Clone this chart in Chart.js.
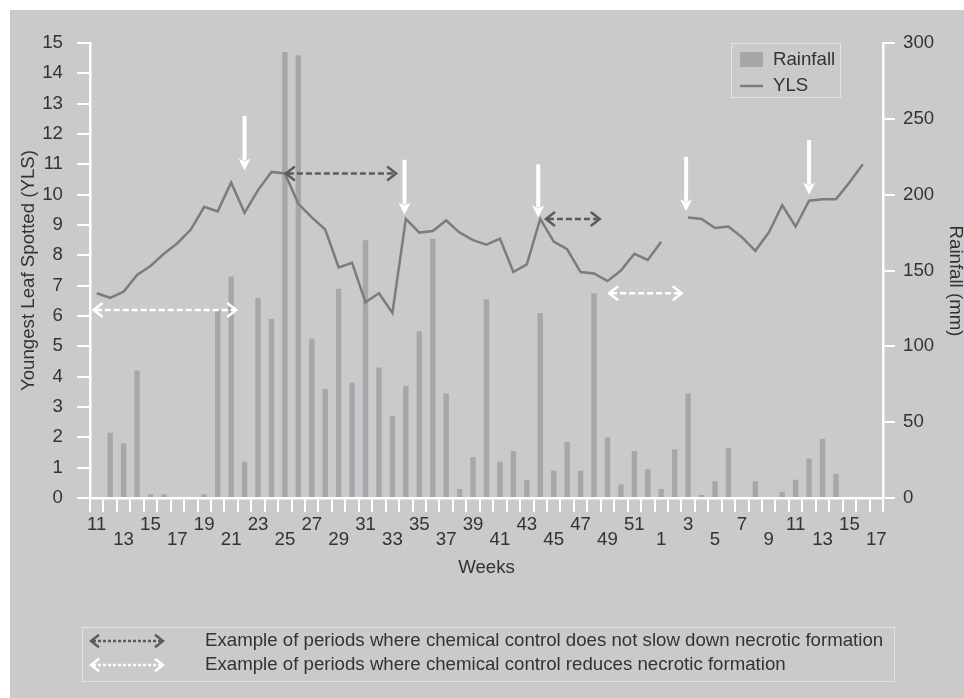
<!DOCTYPE html>
<html>
<head>
<meta charset="utf-8">
<title>YLS and rainfall by week</title>
<style>
  html, body { margin: 0; padding: 0; background: #ffffff; }
  #wrap { width: 964px; height: 698px; }
</style>
<script src="https://cdn.jsdelivr.net/npm/chart.js@4.4.1/dist/chart.umd.min.js"></script>
</head>
<body>
<div id="wrap"><canvas id="chart" width="964" height="698"></canvas></div>
<script>
// Week numbers: week 11 to week 52 of the first year, then weeks 1 to 17 of the next
const weeks = [
  '11','12','13','14','15','16','17','18','19','20','21','22','23','24','25','26','27','28','29','30',
  '31','32','33','34','35','36','37','38','39','40','41','42','43','44','45','46','47','48','49','50',
  '51','52',
  '1','2','3','4','5','6','7','8','9','10','11','12','13','14','15','16','17'
];

// Youngest leaf spotted (left axis); null = no observation that week
const yls = [
  6.75, 6.6, 6.8, 7.35, 7.65, 8.05, 8.4, 8.85, 9.6, 9.45, 10.4, 9.4, 10.15, 10.75, 10.7, 9.7, 9.25, 8.85, 7.6, 7.75,
  6.45, 6.75, 6.1, 9.2, 8.75, 8.8, 9.15, 8.75, 8.5, 8.35, 8.55, 7.45, 7.7, 9.2, 8.45, 8.2, 7.45, 7.4, 7.15, 7.5,
  8.05, 7.85,
  8.45, null, 9.25, 9.2, 8.9, 8.95, 8.6, 8.15, 8.75, 9.65, 8.95, 9.8, 9.85, 9.85, 10.4, 11.0, null
];

// Weekly rainfall in mm (right axis)
const rainfall = [
  0, 43, 36, 84, 2.5, 2.5, 0, 0, 2.5, 124, 146, 24, 132, 118, 294, 292, 105, 72, 138, 76,
  170, 86, 54, 74, 110, 171, 69, 6, 27, 131, 24, 31, 12, 122, 18, 37, 18, 135, 40, 9,
  31, 19,
  6, 32, 69, 2, 11, 33, 0, 11, 0, 4, 12, 26, 39, 16, 0, 0, 0
];

// Treatment arrows, placed by week index (fractional = between weeks) and YLS value
const treatmentArrows = [
  { at: 11,    from: 12.6,  to: 10.8 },
  { at: 22.9,  from: 11.15, to: 9.35 },
  { at: 32.85, from: 11.0,  to: 9.25 },
  { at: 43.85, from: 11.25, to: 9.45 },
  { at: 53,    from: 11.8,  to: 10.0 }
];

// Periods where chemical control does not slow down necrotic formation
const noSlowdownPeriods = [
  { from: 14.0,  to: 22.35, y: 10.7 },
  { from: 33.35, to: 37.5,  y: 9.2 }
];

// Periods where chemical control reduces necrotic formation
const reducedPeriods = [
  { from: -0.3,  to: 10.45, y: 6.2 },
  { from: 38.05, to: 43.6,  y: 6.75 }
];

const periodNotes = [
  'Example of periods where chemical control does not slow down necrotic formation',
  'Example of periods where chemical control reduces necrotic formation'
];

const rainTitle = 'Rainfall (mm)';

const FONT = "'Liberation Sans', Arial, Helvetica, sans-serif";
const FS = 18.67;
const TEXT = '#333333';
const PANEL = '#c9cacc';
const BAR = '#a6a7a9';
const LINE = '#7b7c7e';
const DARK_ARROW = '#5b5c5e';
const WHITE = '#ffffff';

Chart.defaults.font.family = FONT;
Chart.defaults.color = TEXT;

function weekPixel(xScale, idx) {
  const p0 = xScale.getPixelForValue(0);
  const p1 = xScale.getPixelForValue(1);
  return p0 + (p1 - p0) * idx;
}

function doubleArrow(ctx, x1, x2, y, color, dash, head, width) {
  ctx.save();
  ctx.strokeStyle = color;
  ctx.lineWidth = width;
  ctx.lineCap = 'butt';
  ctx.setLineDash(dash);
  ctx.beginPath();
  ctx.moveTo(x1 + 3, y);
  ctx.lineTo(x2 - 3, y);
  ctx.stroke();
  ctx.setLineDash([]);
  ctx.lineJoin = 'miter';
  ctx.beginPath();
  ctx.moveTo(x1 + head, y - head * 0.7);
  ctx.lineTo(x1 + 1, y);
  ctx.lineTo(x1 + head, y + head * 0.7);
  ctx.moveTo(x2 - head, y - head * 0.7);
  ctx.lineTo(x2 - 1, y);
  ctx.lineTo(x2 - head, y + head * 0.7);
  ctx.stroke();
  ctx.restore();
}

function downArrow(ctx, x, yTop, yTip) {
  const headH = 12, headW = 6;
  ctx.save();
  ctx.fillStyle = WHITE;
  ctx.fillRect(x - 2, yTop, 4, yTip - yTop - headH + 2);
  ctx.beginPath();
  ctx.moveTo(x - headW, yTip - headH);
  ctx.lineTo(x, yTip - headH + 3);
  ctx.lineTo(x + headW, yTip - headH);
  ctx.lineTo(x, yTip);
  ctx.closePath();
  ctx.fill();
  ctx.restore();
}

const panelBackground = {
  id: 'panelBackground',
  beforeDraw(chart) {
    const { ctx, width, height } = chart;
    ctx.save();
    ctx.fillStyle = WHITE;
    ctx.fillRect(0, 0, width, height);
    ctx.fillStyle = PANEL;
    ctx.fillRect(10, 10, width - 10, height - 10);
    ctx.restore();
  }
};

const periodAnnotations = {
  id: 'periodAnnotations',
  afterDatasetsDraw(chart) {
    const { ctx } = chart;
    const xs = chart.scales.x, ys = chart.scales.y;
    noSlowdownPeriods.forEach(p => {
      doubleArrow(ctx, weekPixel(xs, p.from), weekPixel(xs, p.to), ys.getPixelForValue(p.y),
        DARK_ARROW, [6, 3], 10, 2.5);
    });
    reducedPeriods.forEach(p => {
      doubleArrow(ctx, weekPixel(xs, p.from), weekPixel(xs, p.to), ys.getPixelForValue(p.y),
        WHITE, [6, 3], 10, 2.5);
    });
    treatmentArrows.forEach(a => {
      downArrow(ctx, weekPixel(xs, a.at), ys.getPixelForValue(a.from), ys.getPixelForValue(a.to));
    });
  }
};

const legends = {
  id: 'legends',
  afterDraw(chart) {
    const { ctx } = chart;
    const ds = chart.data.datasets;
    const rain = ds.find(d => d.label === 'Rainfall');
    const line = ds.find(d => d.label === 'YLS');
    ctx.save();
    // series key, upper right of the plot
    ctx.strokeStyle = '#e2e3e4';
    ctx.lineWidth = 1;
    ctx.strokeRect(731.5, 43.5, 109, 54);
    ctx.fillStyle = rain.backgroundColor;
    ctx.fillRect(740, 52, 23, 15);
    ctx.strokeStyle = line.borderColor;
    ctx.lineWidth = 2.5;
    ctx.beginPath();
    ctx.moveTo(740, 86);
    ctx.lineTo(763, 86);
    ctx.stroke();
    ctx.fillStyle = TEXT;
    ctx.font = FS + 'px ' + FONT;
    ctx.textBaseline = 'middle';
    ctx.textAlign = 'left';
    ctx.fillText(rain.label, 773, 60);
    ctx.fillText(line.label, 773, 86);

    // right-hand axis title, read top to bottom
    ctx.save();
    ctx.translate(955, 281);
    ctx.rotate(Math.PI / 2);
    ctx.textAlign = 'center';
    ctx.fillText(rainTitle, 0, 0);
    ctx.restore();

    // key for the period arrows, below the chart
    ctx.strokeStyle = '#e2e3e4';
    ctx.lineWidth = 1;
    ctx.strokeRect(82.5, 627.5, 812, 54);
    doubleArrow(ctx, 90, 164, 641, DARK_ARROW, [3, 2], 9, 2.5);
    doubleArrow(ctx, 90, 164, 665, WHITE, [3, 2], 9, 2.5);
    ctx.fillStyle = TEXT;
    ctx.font = FS + 'px ' + FONT;
    ctx.textAlign = 'left';
    ctx.fillText(periodNotes[0], 205, 641);
    ctx.fillText(periodNotes[1], 205, 665);
    ctx.restore();
  }
};

const axisGrid = (len) => ({
  drawOnChartArea: false,
  drawTicks: true,
  tickLength: len,
  color: WHITE,
  lineWidth: 2
});

new Chart(document.getElementById('chart'), {
  type: 'bar',
  data: {
    labels: weeks,
    datasets: [
      {
        type: 'line',
        label: 'YLS',
        data: yls,
        yAxisID: 'y',
        borderColor: LINE,
        borderWidth: 2.5,
        pointRadius: 0,
        tension: 0,
        spanGaps: false,
        fill: false,
        order: 0
      },
      {
        type: 'bar',
        label: 'Rainfall',
        data: rainfall,
        yAxisID: 'y1',
        backgroundColor: BAR,
        barPercentage: 0.4,
        categoryPercentage: 1,
        order: 1
      }
    ]
  },
  options: {
    responsive: false,
    animation: false,
    events: [],
    layout: { padding: { top: 43, bottom: 119, left: 0, right: 0 } },
    plugins: {
      legend: { display: false },
      tooltip: { enabled: false }
    },
    scales: {
      x: {
        offset: true,
        grid: Object.assign(axisGrid(14), { offset: true }),
        border: { color: WHITE, width: 2.5 },
        ticks: {
          autoSkip: false,
          maxRotation: 0,
          minRotation: 0,
          padding: 5,
          color: TEXT,
          font: { size: FS, lineHeight: 0.83 },
          callback(value, index) {
            if (index % 2) return '';
            const lab = this.getLabelForValue(value);
            return (index / 2) % 2 === 0 ? [lab, ''] : ['', lab];
          }
        },
        title: { display: true, text: 'Weeks', color: TEXT, font: { size: FS }, padding: { top: 0, bottom: 0 } },
        afterFit(scale) { scale.height = 81; }
      },
      y: {
        position: 'left',
        min: 0,
        max: 15,
        grid: axisGrid(13),
        border: { color: WHITE, width: 2.5 },
        ticks: { stepSize: 1, padding: 14, color: TEXT, font: { size: FS } },
        title: { display: true, text: 'Youngest Leaf Spotted (YLS)', color: TEXT, font: { size: FS }, padding: { top: 18, bottom: 0 } },
        afterFit(scale) { scale.width = 90; }
      },
      y1: {
        position: 'right',
        min: 0,
        max: 300,
        grid: axisGrid(12),
        border: { color: WHITE, width: 2.5 },
        ticks: { stepSize: 50, padding: 8, color: TEXT, font: { size: FS } },
        title: { display: false },
        afterFit(scale) { scale.width = 81; }
      }
    }
  },
  plugins: [panelBackground, periodAnnotations, legends]
});
</script>
</body>
</html>
